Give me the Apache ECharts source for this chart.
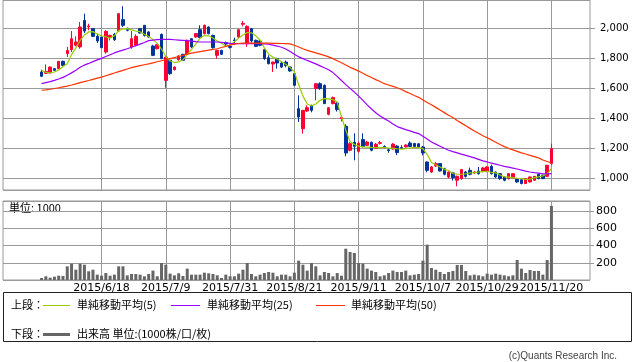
<!DOCTYPE html>
<html><head><meta charset="utf-8">
<script src="https://cdn.jsdelivr.net/npm/echarts@6/dist/echarts.min.js"></script>
<style>html,body{margin:0;padding:0;background:#fff}#c{width:638px;height:362px}</style>
</head><body><div id="c"></div>
<script>
const dates = [
'2015/5/29',
'2015/6/1','2015/6/2','2015/6/3','2015/6/4','2015/6/5','2015/6/8','2015/6/9','2015/6/10','2015/6/11','2015/6/12','2015/6/15','2015/6/16','2015/6/17','2015/6/18','2015/6/19','2015/6/22','2015/6/23','2015/6/24','2015/6/25','2015/6/26','2015/6/29','2015/6/30',
'2015/7/1','2015/7/2','2015/7/3','2015/7/6','2015/7/7','2015/7/8','2015/7/9','2015/7/10','2015/7/13','2015/7/14','2015/7/15','2015/7/16','2015/7/17','2015/7/21','2015/7/22','2015/7/23','2015/7/24','2015/7/27','2015/7/28','2015/7/29','2015/7/30','2015/7/31',
'2015/8/3','2015/8/4','2015/8/5','2015/8/6','2015/8/7','2015/8/10','2015/8/11','2015/8/12','2015/8/13','2015/8/14','2015/8/17','2015/8/18','2015/8/19','2015/8/20','2015/8/21','2015/8/24','2015/8/25','2015/8/26','2015/8/27','2015/8/28','2015/8/31',
'2015/9/1','2015/9/2','2015/9/3','2015/9/4','2015/9/7','2015/9/8','2015/9/9','2015/9/10','2015/9/11','2015/9/14','2015/9/15','2015/9/16','2015/9/17','2015/9/18','2015/9/24','2015/9/25','2015/9/28','2015/9/29','2015/9/30',
'2015/10/1','2015/10/2','2015/10/5','2015/10/6','2015/10/7','2015/10/8','2015/10/9','2015/10/13','2015/10/14','2015/10/15','2015/10/16','2015/10/19','2015/10/20','2015/10/21','2015/10/22','2015/10/23','2015/10/26','2015/10/27','2015/10/28','2015/10/29','2015/10/30',
'2015/11/2','2015/11/4','2015/11/5','2015/11/6','2015/11/9','2015/11/10','2015/11/11','2015/11/12','2015/11/13','2015/11/16','2015/11/17','2015/11/18','2015/11/19','2015/11/20'
];
const tickLabels = ['2015/6/18','2015/7/9','2015/7/31','2015/8/21','2015/9/11','2015/10/7','2015/10/29','2015/11/20'];

const opens = [
1709,1700,1702,1731,1731,1780,1831,1858,1887,1876,
2053,2010,1998,1947,1942,1842,1938,1960,1982,2058,
2000,1876,1887,1998,2020,1976,1882,1864,1960,1653,
1787,1724,1791,1827,1831,1931,1942,1991,1964,2009,
1953,1820,1853,1905,1880,1922,1942,2028,1898,1998,
1920,1915,1858,1804,1762,1798,1769,1775,1742,1698,
1464,1331,1449,1487,1598,1631,1620,1427,1498,1502,
1398,1347,1187,1240,1180,1258,1220,1240,1200,1233,
1212,1190,1195,1215,1205,1209,1235,1232,1230,1209,
1109,1042,1082,1098,1064,1009,1036,987,998,1042,
1053,1036,1049,1047,1047,1080,1042,1031,1009,998,
1004,998,991,965,976,987,1027,1020,1013,1098];
const closes = [
1680,1712,1742,1720,1780,1753,1853,1931,1909,2009,
1982,2016,1947,1916,1871,1980,1953,1924,2098,2020,
1987,1931,1947,1969,1953,1942,1820,1891,1798,1809,
1698,1742,1816,1787,1920,1876,1965,1938,2020,1964,
1871,1853,1827,1895,1873,1918,1991,2033,2013,1916,
1880,1887,1798,1764,1775,1769,1742,1753,1716,1620,
1409,1453,1471,1453,1631,1598,1498,1471,1538,1458,
1406,1169,1231,1213,1233,1213,1242,1187,1227,1238,
1207,1185,1228,1172,1200,1222,1212,1212,1210,1169,
1053,1076,1098,1049,1027,1042,1005,1013,1058,1013,
1027,1042,1031,1069,1076,1031,1009,998,987,1031,
1031,976,965,998,1009,1013,998,998,1087,1198];
const lows = [
1676,1698,1700,1715,1728,1750,1809,1842,1880,1864,
1969,1987,1942,1902,1869,1831,1920,1916,1976,2009,
1980,1864,1880,1965,1945,1938,1815,1860,1795,1604,
1690,1720,1785,1782,1825,1870,1938,1935,1960,1960,
1865,1798,1822,1880,1865,1893,1935,2013,1876,1905,
1875,1880,1790,1760,1709,1731,1735,1740,1710,1615,
1376,1298,1442,1440,1520,1590,1495,1420,1493,1445,
1380,1147,1180,1120,1170,1205,1215,1180,1195,1225,
1200,1170,1190,1155,1195,1205,1208,1208,1206,1153,
1040,1035,1075,1045,1020,1000,985,947,990,1005,
1020,1030,1025,1040,1040,1025,1004,990,980,992,
1000,970,960,962,972,984,993,994,1010,1090];
const highs = [
1724,1760,1745,1735,1782,1785,1876,1982,1947,2042,
2098,2031,2000,1964,1945,1987,1958,1969,2102,2147,
2005,1982,1960,2002,2020,1980,1890,1895,1965,1812,
1790,1745,1820,1830,1925,1935,1968,2020,2025,2012,
1958,1858,1857,1912,1890,1938,1995,2049,2020,2000,
1925,1920,1862,1820,1778,1804,1778,1785,1745,1700,
1553,1455,1487,1490,1631,1640,1625,1475,1545,1515,
1420,1360,1240,1300,1245,1300,1250,1245,1235,1250,
1220,1200,1235,1220,1220,1226,1247,1236,1234,1215,
1112,1080,1109,1100,1070,1045,1040,1018,1062,1048,
1071,1048,1076,1075,1080,1091,1045,1035,1012,1035,
1035,1000,995,1000,1012,1016,1030,1024,1090,1231];
const volumes = [
23,43,27,39,50,47,159,190,120,190,
178,101,120,62,50,81,50,62,159,159,
54,70,70,62,43,70,109,43,198,178,
74,54,78,47,132,62,62,62,85,78,
70,54,23,62,43,43,74,120,198,70,
43,62,81,93,85,43,62,62,43,85,
225,178,109,198,159,54,93,81,43,81,
50,364,326,314,198,190,132,109,93,43,
54,81,109,93,93,109,54,62,70,225,
411,140,120,93,70,93,105,175,175,105,
54,62,54,43,74,62,74,62,54,43,
54,233,132,81,116,105,105,62,233,862];
const ma5 = [
1720,1706,1704,1709,1722,1745,1764,1825,1870,1920,
1955,1976,1978,1962,1950,1944,1935,1950,1985,1996,
1998,1990,1982,1978,1960,1945,1925,1900,1862,1812,
1782,1772,1776,1790,1825,1860,1895,1935,1952,1950,
1935,1915,1900,1880,1888,1910,1935,1955,1972,1970,
1950,1922,1870,1828,1808,1796,1778,1760,1738,1710,
1625,1548,1495,1482,1495,1520,1531,1530,1525,1508,
1410,1322,1245,1225,1214,1210,1208,1206,1205,1205,
1204,1202,1200,1197,1195,1198,1202,1205,1204,1198,
1160,1105,1090,1075,1060,1052,1032,1028,1027,1030,
1036,1038,1042,1045,1047,1040,1036,1022,1010,1008,
1004,1000,997,993,995,1004,1010,1016,1030,1064];
const ma25 = [
1631,1638,1645,1653,1662,1673,1687,1703,1720,1740,
1755,1766,1778,1790,1800,1812,1824,1836,1846,1855,
1864,1874,1884,1895,1906,1918,1922,1925,1926,1927,
1926,1924,1922,1920,1918,1915,1911,1909,1909,1909,
1909,1909,1906,1903,1900,1898,1898,1898,1898,1898,
1898,1898,1897,1894,1888,1882,1874,1862,1846,1828,
1810,1798,1786,1775,1763,1750,1737,1724,1705,1680,
1652,1625,1600,1575,1548,1520,1490,1462,1437,1415,
1398,1382,1362,1345,1335,1325,1316,1306,1298,1280,
1262,1242,1228,1214,1200,1187,1178,1170,1161,1153,
1145,1136,1126,1116,1109,1101,1094,1087,1080,1074,
1068,1062,1055,1048,1042,1038,1035,1030,1029,1031];
const ma50 = [
1587,1590,1594,1599,1604,1610,1615,1622,1630,1638,
1645,1652,1660,1668,1675,1684,1693,1702,1711,1720,
1729,1738,1745,1751,1757,1763,1770,1777,1784,1791,
1798,1805,1812,1820,1828,1835,1840,1845,1850,1855,
1860,1864,1872,1880,1888,1895,1899,1901,1902,1902,
1902,1902,1901,1901,1900,1900,1899,1898,1896,1887,
1876,1864,1853,1845,1836,1828,1820,1810,1798,1784,
1770,1755,1740,1728,1715,1700,1686,1672,1658,1645,
1631,1622,1613,1604,1592,1578,1565,1552,1540,1522,
1506,1490,1473,1456,1438,1420,1405,1386,1368,1350,
1333,1316,1300,1284,1270,1256,1241,1225,1211,1200,
1190,1180,1170,1162,1153,1145,1136,1122,1112,1102];

// empty category slots on each side of the trading days
const PAD_L = 9, PAD_R = 9;
const cats = [];
for (let k = 0; k < PAD_L; k++) cats.push('padL' + k);
dates.forEach(d => cats.push(d));
for (let k = 0; k < PAD_R; k++) cats.push('padR' + k);
const pad = arr => [...Array(PAD_L).fill('-'), ...arr, ...Array(PAD_R).fill('-')];
const candleData = pad(dates.map((d, i) => [opens[i], closes[i], lows[i], highs[i]]));

const GRID = '#999999';
const isTick = (idx, val) => tickLabels.indexOf(val) >= 0;
const jp = "'Noto Sans CJK JP', 'DejaVu Sans', sans-serif";

const chart = echarts.init(document.getElementById('c'), null, {renderer: 'canvas'});
const xBase = (gi, showLabel) => ({
  type: 'category', gridIndex: gi, data: cats, boundaryGap: false,
  axisLine: {show: false}, axisTick: {show: false},
  axisLabel: {show: showLabel, interval: isTick, margin: 3, fontSize: 11,
    fontFamily: 'DejaVu Sans', color: '#000'},
  splitLine: {show: true, interval: isTick, lineStyle: {color: GRID, width: 1}}
});
chart.setOption({
  animation: false,
  backgroundColor: '#fff',
  grid: [
    {left: 3, top: 0, width: 587, height: 190, show: true, borderColor: GRID, borderWidth: 1},
    {left: 3, top: 201, width: 587, height: 79, show: true, borderColor: GRID, borderWidth: 1}
  ],
  xAxis: [xBase(0, false), xBase(1, true)],
  yAxis: [
    {type: 'value', gridIndex: 0, position: 'right', min: 922, max: 2189, splitNumber: 6,
     axisLine: {show: false},
     axisTick: {show: true, length: 5, lineStyle: {color: GRID}},
     axisLabel: {showMinLabel: false, showMaxLabel: false, margin: 10, fontSize: 10,
       fontFamily: 'DejaVu Sans', color: '#000',
       formatter: v => Number(v).toLocaleString('en-US')},
     splitLine: {lineStyle: {color: GRID, width: 1}}},
    {type: 'value', gridIndex: 1, position: 'right', min: 0, max: 919, splitNumber: 5,
     axisLine: {show: false},
     axisTick: {show: true, length: 4, lineStyle: {color: GRID}},
     axisLabel: {showMinLabel: false, showMaxLabel: false, margin: 6, fontSize: 11,
       fontFamily: 'DejaVu Sans', color: '#000'},
     splitLine: {lineStyle: {color: GRID, width: 1}}}
  ],
  series: [
    {type: 'candlestick', xAxisIndex: 0, yAxisIndex: 0, data: candleData, barWidth: 3,
     itemStyle: {color: '#ff0033', color0: '#003399', borderColor: '#ff0033', borderColor0: '#003399', borderWidth: 1}},
    {type: 'line', xAxisIndex: 0, yAxisIndex: 0, data: pad(ma5), showSymbol: false, z: 3,
     lineStyle: {color: '#99cc00', width: 1.2}},
    {type: 'line', xAxisIndex: 0, yAxisIndex: 0, data: pad(ma25), showSymbol: false, z: 3,
     lineStyle: {color: '#9900ff', width: 1.2}},
    {type: 'line', xAxisIndex: 0, yAxisIndex: 0, data: pad(ma50), showSymbol: false, z: 3,
     lineStyle: {color: '#ff3300', width: 1.2}},
    {type: 'bar', xAxisIndex: 1, yAxisIndex: 1, data: pad(volumes), barWidth: 3,
     itemStyle: {color: '#666666'}}
  ],
  graphic: [
    {type: 'text', x: 9, y: 208, style: {text: '単位: 1000', font: "11px " + jp, fill: '#000', verticalAlign: 'middle'}},
    {type: 'rect', shape: {x: 3.5, y: 292.5, width: 628, height: 49}, style: {fill: 'none', stroke: '#222', lineWidth: 1}},
    {type: 'text', x: 11, y: 305, style: {text: '上段：', font: "11px " + jp, fill: '#000', verticalAlign: 'middle'}},
    {type: 'line', shape: {x1: 43, y1: 305.5, x2: 70, y2: 305.5}, style: {stroke: '#99cc00', lineWidth: 1}},
    {type: 'text', x: 77, y: 305, style: {text: '単純移動平均(5)', font: "11px " + jp, fill: '#000', verticalAlign: 'middle'}},
    {type: 'line', shape: {x1: 171, y1: 305.5, x2: 200, y2: 305.5}, style: {stroke: '#9900ff', lineWidth: 1}},
    {type: 'text', x: 207, y: 305, style: {text: '単純移動平均(25)', font: "11px " + jp, fill: '#000', verticalAlign: 'middle'}},
    {type: 'line', shape: {x1: 316, y1: 305.5, x2: 345, y2: 305.5}, style: {stroke: '#ff3300', lineWidth: 1}},
    {type: 'text', x: 351, y: 305, style: {text: '単純移動平均(50)', font: "11px " + jp, fill: '#000', verticalAlign: 'middle'}},
    {type: 'text', x: 11, y: 334, style: {text: '下段：', font: "11px " + jp, fill: '#000', verticalAlign: 'middle'}},
    {type: 'rect', shape: {x: 43, y: 333, width: 27, height: 3}, style: {fill: '#666666'}},
    {type: 'text', x: 77, y: 334, style: {text: '出来高 単位:(1000株/口/枚)', font: "11px " + jp, fill: '#000', verticalAlign: 'middle'}},
    {type: 'text', x: 617, y: 356, style: {text: '(c)Quants Research Inc.', font: "10px 'Liberation Sans', sans-serif", fill: '#444', align: 'right', verticalAlign: 'middle'}}
  ]
});
</script></body></html>
